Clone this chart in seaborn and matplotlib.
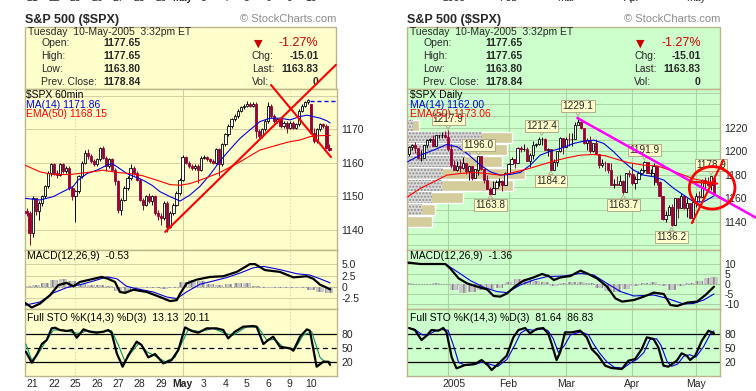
import numpy as np
import matplotlib
matplotlib.use("Agg")
import matplotlib.pyplot as plt
import matplotlib.transforms as mtransforms
from matplotlib.patches import Rectangle, Ellipse
import seaborn as sns

sns.set_style("white")
plt.rcParams['font.family'] = ['Liberation Sans', 'DejaVu Sans']

# -------------------------------
# Header values (same for both charts)
# -------------------------------
title = "S&P 500 ($SPX)"
stamp = "Tuesday  10-May-2005  3:32pm ET"
quote_labels = ["Open:", "High:", "Low:", "Prev. Close:"]
quote_values = ["1177.65", "1177.65", "1163.80", "1178.84"]
chg_labels = ["Chg:", "Last:", "Vol:"]
chg_values = ["-15.01", "1163.83", "0"]
pct_change = "-1.27%"

# -------------------------------
# 60 minute chart (bar index 0..99, 7 bars per day)
# -------------------------------
day_labels = ["21", "22", "25", "26", "27", "28", "29", "May", "3", "4", "5", "6", "9", "10"]
first_day_bar = 2
bars_per_day = 7

h_close = [
    1145.0, 1139.0, 1149.4, 1145.5, 1148.0, 1150.0, 1153.0, 1157.0, 1159.5, 1157.0,
    1156.5, 1159.5, 1157.5, 1158.5, 1152.5, 1150.0, 1151.5, 1156.0, 1160.0, 1163.0,
    1162.0, 1160.5, 1159.5, 1161.0, 1164.5, 1161.5, 1159.0, 1161.0, 1158.0, 1154.5,
    1146.0, 1149.0, 1152.5, 1155.5, 1158.5, 1157.0, 1155.0, 1149.0, 1147.5, 1150.0,
    1148.5, 1150.0, 1145.0, 1144.0, 1143.5, 1148.0, 1141.0, 1145.0, 1147.5, 1151.0,
    1155.0, 1161.8, 1160.0, 1159.0, 1158.5, 1159.0, 1158.0, 1161.5, 1161.8, 1161.0,
    1160.5, 1160.0, 1164.0, 1159.5, 1165.5, 1168.5, 1171.0, 1173.0, 1174.0, 1175.5,
    1176.5, 1177.0, 1177.5, 1177.0, 1177.5, 1169.5, 1168.0, 1170.0, 1172.5, 1177.0,
    1174.0, 1172.5, 1173.0, 1171.0, 1172.0, 1170.5, 1172.0, 1170.5, 1171.5, 1175.5,
    1177.0, 1178.0, 1178.84, 1169.0, 1166.5, 1170.0, 1171.5, 1171.0, 1164.5, 1163.83,
]
h_high = [
    1146.5, 1145.5, 1150.0, 1149.5, 1148.5, 1150.5, 1153.5, 1157.5, 1160.0, 1160.0,
    1158.0, 1160.0, 1160.0, 1159.0, 1159.0, 1153.0, 1152.0, 1156.5, 1160.5, 1163.8,
    1164.0, 1162.5, 1161.0, 1161.5, 1164.8, 1165.0, 1162.0, 1161.5, 1161.5, 1158.5,
    1155.0, 1149.5, 1153.0, 1156.0, 1159.5, 1159.0, 1157.5, 1155.5, 1149.5, 1150.5,
    1151.0, 1150.5, 1150.5, 1146.0, 1145.0, 1148.5, 1148.5, 1145.5, 1148.0, 1151.5,
    1155.5, 1162.3, 1162.0, 1160.5, 1159.5, 1159.5, 1159.5, 1162.0, 1162.3, 1162.0,
    1161.5, 1161.0, 1164.5, 1164.5, 1166.0, 1169.0, 1171.5, 1173.5, 1174.5, 1176.0,
    1177.0, 1177.5, 1178.5, 1178.0, 1178.0, 1178.0, 1170.0, 1170.5, 1173.0, 1178.0,
    1177.5, 1174.5, 1173.5, 1173.5, 1172.5, 1172.5, 1172.5, 1172.5, 1172.0, 1176.0,
    1177.5, 1178.5, 1178.9, 1177.65, 1170.5, 1170.5, 1172.0, 1172.0, 1171.5, 1165.5,
]
h_low = [
    1144.0, 1135.5, 1138.0, 1144.5, 1143.0, 1147.0, 1149.5, 1152.5, 1156.0, 1156.5,
    1155.5, 1156.0, 1157.0, 1157.0, 1152.0, 1149.0, 1142.3, 1151.0, 1155.5, 1159.5,
    1161.0, 1160.0, 1159.0, 1159.0, 1160.5, 1161.0, 1157.5, 1158.5, 1157.5, 1153.5,
    1145.0, 1144.5, 1148.5, 1152.0, 1155.0, 1156.5, 1154.5, 1148.5, 1146.0, 1147.0,
    1148.0, 1147.5, 1144.5, 1143.0, 1141.5, 1143.0, 1139.4, 1140.5, 1144.5, 1147.0,
    1150.5, 1154.5, 1159.5, 1158.5, 1158.0, 1158.0, 1154.0, 1157.5, 1161.0, 1160.5,
    1160.0, 1159.5, 1159.5, 1156.0, 1159.0, 1165.0, 1168.0, 1170.5, 1172.5, 1173.5,
    1175.0, 1176.0, 1176.5, 1176.5, 1176.5, 1167.5, 1167.5, 1167.5, 1169.5, 1172.0,
    1173.5, 1172.0, 1172.0, 1170.5, 1170.5, 1169.0, 1170.0, 1170.0, 1170.0, 1171.0,
    1175.0, 1176.5, 1177.5, 1168.5, 1166.0, 1166.0, 1169.5, 1170.5, 1164.0, 1163.5,
]
h_first_open = 1145.5
h_session_open = {93: 1177.65}   # 10-May opening print

# moving averages (bar index, value)
h_ma_idx = [-0.5, 4.4, 8.7, 11.9, 15.2, 16.8, 19.8, 23.0, 26.3, 27.9, 29.6, 32.8, 35.4, 38.1,
            41.0, 43.6, 46.9, 50.2, 53.4, 56.7, 60.0, 63.2, 66.5, 69.8, 73.0, 76.3, 79.6,
            82.8, 86.1, 89.4, 91.7, 93.6, 96.0, 98.2, 99.2]
h_ma14 = [1149.4, 1148.9, 1149.9, 1151.4, 1152.9, 1154.8, 1156.8, 1157.8, 1159.3, 1159.8,
          1158.8, 1156.8, 1155.8, 1154.8, 1153.3, 1151.4, 1149.9, 1148.6, 1150.4, 1153.0,
          1156.5, 1160.5, 1164.0, 1167.3, 1169.8, 1172.3, 1173.3, 1173.3, 1172.8, 1173.8,
          1174.2, 1173.8, 1173.3, 1172.5, 1171.86]
h_ema_idx = [-0.5, 4.4, 8.7, 14.2, 19.8, 25.0, 29.6, 33.8, 38.1, 42.6, 46.9, 50.2, 53.4,
             56.7, 63.2, 69.8, 76.3, 82.8, 86.1, 89.4, 92.6, 96.0, 99.2]
h_ema50 = [1159.3, 1157.3, 1156.5, 1156.5, 1157.1, 1157.8, 1157.1, 1156.8, 1156.1, 1154.8,
           1153.5, 1153.3, 1153.8, 1154.8, 1157.1, 1160.3, 1163.8, 1165.5, 1166.3, 1166.8,
           1167.8, 1168.1, 1168.15]

h_macd_idx = [-0.5, 1.7, 4.4, 7.7, 10.4, 13.1, 15.3, 17.5, 20.7, 24.6, 26.6, 28.9, 30.5, 32.2,
              34.9, 39.3, 43.6, 46.9, 49.1, 50.2, 52.3, 55.6, 60.0, 64.3, 68.7, 73.0, 74.7,
              77.9, 82.8, 87.2, 91.6, 93.7, 95.9, 98.1, 99.2]
h_macd = [-3.5, -4.5, -3.65, -1.8, 0.4, 0.9, 0.15, 1.1, 1.6, 2.2, 1.8, 1.1, -1.1, -1.3,
          -0.6, -1.1, -2.2, -3.1, -2.9, -1.45, 0.75, 1.6, 2.2, 2.35, 3.3, 5.0, 5.0,
          3.7, 3.3, 2.1, 2.35, 1.8, 0.5, -0.15, -0.53]
h_sig_idx = [-0.5, 4.4, 8.8, 13.1, 17.5, 21.9, 26.3, 29.5, 32.7, 36.0, 41.4, 45.8, 49.1,
             52.3, 56.7, 61.0, 65.4, 69.8, 74.1, 77.5, 82.8, 88.3, 92.6, 95.9, 99.2]
h_signal = [-4.0, -3.3, -1.3, -0.15, 0.5, 1.3, 2.2, 1.8, 0.15, -0.4, -1.1, -2.2, -2.55,
            -1.1, 0.6, 1.3, 2.05, 3.05, 4.2, 4.5, 3.8, 2.9, 2.6, 1.8, 0.9]
h_hist_idx = list(range(0, 100, 3))
h_hist = [0.2, 0.4, 0.9, 1.5, 1.7, 1.2, 0.6, 0.5, 0.4, 0.2, -0.9, -1.2, -0.5, -0.2, -0.3,
          -0.4, -0.2, 1.0, 1.6, 1.2, 0.6, 0.5, 0.7, 0.9, 0.8, 0.3, -0.2, -0.3, -0.3, -0.2,
          -0.3, -0.6, -1.0, -1.3]

h_k_idx = [-0.2, 1.7, 3.3, 5.0, 6.6, 8.2, 9.3, 10.9, 13.1, 14.8, 16.4, 18.6, 20.7, 22.9,
           25.1, 26.7, 27.8, 29.5, 31.4, 33.3, 36.0, 37.6, 39.8, 42.0, 44.7, 47.4, 49.6,
           51.8, 54.0, 56.1, 58.9, 62.1, 64.3, 65.9, 68.1, 70.8, 74.1, 75.2, 77.4, 79.0,
           80.6, 82.8, 86.1, 87.2, 89.4, 91.6, 92.6, 94.8, 97.0, 98.6, 99.2]
h_sto_k = [41.7, 17.8, 34.4, 58.3, 67.0, 92.3, 93.7, 88.7, 86.5, 88.7, 72.0, 90.1, 85.0,
           82.9, 85.0, 88.7, 82.9, 38.0, 9.1, 34.4, 63.4, 56.1, 29.4, 36.6, 16.4, 23.6,
           45.3, 94.4, 86.5, 82.9, 92.3, 92.3, 88.7, 70.6, 85.0, 95.9, 97.3, 95.9, 58.3,
           67.0, 74.2, 52.5, 48.9, 43.8, 74.2, 90.1, 87.2, 9.1, 20.0, 20.0, 13.13]
h_d_idx = [-0.2, 1.7, 3.9, 6.0, 8.8, 12.0, 15.3, 17.5, 19.7, 24.0, 27.8, 30.0, 32.2, 34.4,
           36.9, 39.3, 41.4, 45.3, 48.5, 50.7, 52.9, 56.7, 61.0, 65.4, 67.6, 71.9, 75.7,
           78.5, 81.2, 83.9, 87.7, 90.4, 93.2, 95.9, 97.5, 99.2]
h_sto_d = [58.3, 23.6, 38.0, 61.2, 88.7, 88.7, 82.9, 81.4, 87.2, 84.3, 87.2, 56.1, 20.0,
           41.7, 61.2, 41.7, 34.4, 20.0, 29.4, 59.7, 90.1, 85.0, 92.3, 80.0, 77.8, 95.9,
           94.4, 67.0, 68.4, 51.1, 46.7, 77.8, 85.0, 29.4, 20.0, 20.11]

# hand-drawn trend lines on the 60 min chart
h_trend_up = ([45.3, 101.1], [1139.4, 1189.2])
h_trend_down = ([79.9, 99.5], [1183.2, 1161.7])
h_prior_high = 1178.5
h_prior_high_from = 92.6

# -------------------------------
# Daily chart (14-Dec-2004 .. 10-May-2005)
# -------------------------------
month_labels = ["2005", "Feb", "Mar", "Apr", "May"]
month_start = [13, 33, 52, 74, 95]
month_label_pos = [15, 33, 52, 74, 95]

d_close = [
    1203.4, 1205.7, 1203.2, 1194.2, 1194.7, 1205.5, 1209.6, 1210.1, 1204.9, 1213.5, 1213.5, 1213.6, 1211.9,
    1202.1, 1188.1, 1183.7, 1187.9, 1186.2, 1190.3, 1183.0, 1187.7, 1177.5, 1184.5,
    1196.0, 1184.6, 1175.4, 1167.9, 1163.8, 1168.4, 1174.1, 1174.6, 1171.4, 1181.3,
    1189.4, 1193.2, 1189.9, 1203.0, 1201.7, 1202.3, 1192.0, 1197.0, 1205.3, 1206.1,
    1210.1, 1210.3, 1200.8, 1201.6, 1184.2, 1190.8, 1200.2, 1211.4, 1203.6,
    1210.4, 1210.1, 1210.5, 1222.1, 1225.3, 1219.4, 1207.0, 1209.3, 1200.1, 1206.8, 1197.8,
    1188.1, 1190.2, 1189.7, 1183.8, 1171.7, 1172.5, 1171.4, 1174.3, 1165.4, 1181.4, 1180.6,
    1172.9, 1176.1, 1181.4, 1184.1, 1191.1, 1181.2, 1181.2, 1187.8, 1173.8, 1162.1, 1142.6,
    1146.0, 1152.8, 1137.5, 1160.0, 1152.1, 1162.1, 1151.8, 1156.4, 1143.2, 1156.9,
    1162.2, 1161.2, 1175.7, 1172.6, 1171.4, 1178.84, 1163.83,
]
d_high = [
    1204.9, 1206.6, 1207.9, 1203.2, 1200.7, 1205.5, 1210.2, 1211.6, 1214.1, 1213.6, 1213.9, 1216.5, 1217.3,
    1217.9, 1205.8, 1192.7, 1191.6, 1192.2, 1194.8, 1190.3, 1187.9, 1187.7, 1185.2,
    1196.0, 1196.0, 1184.6, 1179.5, 1169.7, 1174.3, 1175.3, 1177.5, 1175.6, 1182.3,
    1190.4, 1195.2, 1193.2, 1203.5, 1204.5, 1205.9, 1203.8, 1198.8, 1208.4, 1206.9,
    1212.1, 1212.4, 1211.3, 1202.9, 1202.2, 1193.5, 1200.4, 1212.2, 1211.4,
    1212.3, 1215.7, 1215.7, 1224.8, 1229.1, 1225.7, 1219.4, 1211.2, 1213.0, 1206.9, 1210.5,
    1197.8, 1193.3, 1192.0, 1189.8, 1189.7, 1176.6, 1179.3, 1179.4, 1175.8, 1181.4, 1184.0,
    1189.8, 1178.6, 1183.6, 1185.6, 1191.9, 1191.1, 1184.8, 1190.2, 1187.8, 1174.7, 1162.1,
    1148.9, 1154.7, 1155.5, 1160.0, 1160.0, 1164.8, 1162.1, 1159.9, 1156.4, 1156.9,
    1164.3, 1166.0, 1176.0, 1178.3, 1177.8, 1178.9, 1177.7,
]
d_low = [
    1196.2, 1201.5, 1198.4, 1193.4, 1191.7, 1194.1, 1203.2, 1207.7, 1204.9, 1204.9, 1210.9, 1211.4, 1211.7,
    1200.3, 1185.4, 1183.7, 1183.3, 1182.2, 1184.8, 1180.4, 1175.6, 1175.8, 1177.5,
    1180.1, 1184.4, 1173.4, 1167.8, 1163.8, 1163.8, 1168.4, 1170.2, 1166.3, 1171.4,
    1181.3, 1189.4, 1185.6, 1189.7, 1199.7, 1200.2, 1191.5, 1186.9, 1193.3, 1203.6,
    1205.5, 1205.1, 1200.7, 1195.8, 1184.2, 1184.2, 1187.8, 1199.6, 1198.1,
    1203.6, 1204.5, 1204.5, 1210.5, 1222.1, 1218.6, 1206.6, 1201.4, 1198.2, 1199.5, 1197.8,
    1185.6, 1186.3, 1182.8, 1181.9, 1171.6, 1168.7, 1171.3, 1171.4, 1163.7, 1165.4, 1178.3,
    1171.7, 1167.7, 1176.1, 1180.0, 1182.7, 1181.2, 1178.7, 1170.9, 1171.6, 1161.7, 1141.9,
    1139.8, 1146.0, 1136.2, 1137.5, 1142.9, 1152.1, 1151.2, 1144.4, 1143.2, 1139.8,
    1152.7, 1156.7, 1161.2, 1168.0, 1170.1, 1166.8, 1163.8,
]
d_first_open = 1198.0
d_session_open = {101: 1177.65}

peak_idx = [13, 23, 44, 56, 78, 100]
trough_idx = [27, 47, 71, 87]

d_ma_idx = [-0.4, 3.8, 8.2, 12.6, 16.0, 19.3, 23.7, 27.0, 30.3, 33.6, 36.9, 40.2, 43.5, 46.9,
            50.2, 54.6, 57.9, 61.2, 64.5, 67.8, 71.1, 74.4, 77.7, 81.1, 84.4, 87.7, 91.0,
            94.3, 97.6, 101.0]
d_ma14 = [1191.1, 1196.7, 1201.0, 1205.8, 1203.8, 1198.1, 1188.2, 1182.5, 1179.7, 1180.3,
          1182.0, 1188.2, 1196.7, 1200.1, 1202.4, 1206.7, 1208.6, 1209.5, 1206.7, 1199.6,
          1191.1, 1184.0, 1179.7, 1178.3, 1175.5, 1168.4, 1162.7, 1157.0, 1157.0, 1162.00]
d_ema_idx = [-0.4, 3.8, 8.2, 12.6, 17.0, 21.4, 25.8, 30.3, 34.7, 39.1, 43.5, 47.9, 52.4,
             56.8, 61.0, 65.0, 72.3, 77.7, 82.1, 86.5, 91.0, 94.3, 97.6, 101.0]
d_ema50 = [1161.3, 1168.4, 1174.0, 1179.7, 1181.1, 1182.0, 1181.1, 1179.7, 1182.0, 1184.8,
           1188.2, 1191.6, 1194.5, 1196.7, 1197.3, 1196.2, 1190.5, 1188.2, 1187.6, 1184.0,
           1179.7, 1176.5, 1174.8, 1173.06]

d_macd_idx = [-0.1, 3.8, 8.2, 12.1, 13.7, 16.5, 19.3, 22.6, 25.9, 28.1, 30.3, 32.5, 35.3,
              38.0, 41.3, 44.1, 46.3, 48.0, 50.2, 53.5, 56.8, 59.0, 62.3, 65.6, 68.4, 70.6,
              74.5, 77.8, 81.1, 84.4, 86.6, 88.8, 92.1, 95.4, 98.2, 101.0]
d_macd = [10.7, 10.0, 10.0, 10.0, 7.8, 2.8, 0.3, -1.3, -2.7, -6.0, -6.3, -4.7, -1.0, 1.7,
          3.3, 5.0, 4.0, 2.0, 3.3, 4.0, 6.7, 5.3, 2.8, -1.3, -7.2, -8.8, -8.0, -6.3, -4.3,
          -5.0, -10.5, -11.0, -9.3, -8.8, -5.5, -1.36]
d_sig_idx = [-0.1, 12.1, 16.0, 20.4, 24.9, 29.2, 32.5, 36.9, 41.3, 45.7, 51.3, 56.8, 61.2,
             65.6, 70.1, 74.5, 81.1, 85.5, 91.0, 94.3, 97.6, 101.0]
d_signal = [10.3, 10.0, 6.2, 1.7, -1.7, -3.8, -4.3, -0.5, 2.0, 3.7, 4.0, 5.3, 4.5, 0.3,
            -3.8, -6.0, -5.5, -7.2, -10.0, -9.7, -8.0, -5.0]
d_hist_idx = list(range(0, 100, 3)) + [101]
d_hist = [0.3, 0.2, 0.2, 0.3, 0.0, -3.0, -4.3, -4.0, -3.0, -2.5, -1.8, 0.8, 2.3, 2.3, 1.5,
          0.8, -0.8, 0.3, 0.8, 1.2, 0.5, -1.8, -3.5, -3.8, -2.5, -1.0, 0.3, 1.0, -0.8, -3.0,
          -1.0, 0.5, 1.5, 2.8, 3.7]

d_k_idx = [0.1, 2.0, 4.2, 5.9, 7.5, 9.8, 11.4, 12.5, 14.2, 15.8, 18.6, 21.9, 24.1, 26.3,
           27.4, 29.6, 32.4, 34.6, 36.3, 38.5, 40.1, 42.3, 44.5, 46.2, 47.3, 48.9, 50.1,
           51.7, 53.9, 56.7, 58.9, 60.5, 62.7, 65.0, 67.1, 70.5, 72.7, 74.9, 77.1, 78.8,
           81.0, 82.6, 84.3, 85.9, 88.7, 90.3, 92.0, 93.1, 94.8, 97.0, 99.2, 101.0]
d_sto_k = [93.0, 88.7, 67.0, 76.4, 88.7, 87.3, 93.0, 83.6, 29.4, 5.6, 12.8, 15.0, 23.6, 11.4,
           2.0, 15.0, 33.0, 72.8, 88.7, 93.0, 81.5, 90.9, 93.0, 80.0, 58.3, 23.6, 40.3,
           83.6, 83.6, 87.3, 72.8, 47.5, 33.0, 11.4, 6.3, 4.1, 22.2, 25.8, 47.5, 72.8, 69.2,
           51.1, 11.4, 9.2, 22.2, 38.1, 33.0, 23.6, 33.0, 65.6, 87.3, 81.64]
d_d_idx = [0.0, 2.0, 4.5, 6.5, 8.5, 11.0, 13.0, 14.8, 16.5, 19.0, 22.0, 24.5, 27.0, 29.5,
           32.5, 35.0, 37.0, 39.0, 41.5, 44.0, 46.0, 47.8, 49.5, 51.5, 53.5, 57.0, 59.5,
           61.0, 63.0, 65.5, 68.0, 71.0, 73.5, 75.5, 77.8, 79.8, 82.0, 83.5, 85.5, 87.0,
           89.0, 91.0, 93.0, 95.0, 97.5, 99.8, 101.0]
d_sto_d = [93.0, 90.0, 78.0, 78.0, 86.0, 90.0, 88.0, 55.0, 18.0, 12.0, 14.0, 20.0, 14.0,
           10.0, 25.0, 55.0, 82.0, 90.0, 88.0, 91.0, 88.0, 70.0, 40.0, 55.0, 78.0, 85.0,
           78.0, 60.0, 40.0, 20.0, 8.0, 6.0, 18.0, 25.0, 40.0, 68.0, 70.0, 55.0, 20.0, 10.0,
           15.0, 32.0, 35.0, 30.0, 52.0, 80.0, 86.83]

# volume by price (zone centre, total and down volume, relative units)
vbp_center = [1140.2, 1150.4, 1160.6, 1170.8, 1181.0, 1191.2, 1201.4, 1211.6, 1221.8]
vbp_total = [2.5, 2.8, 5.6, 10.6, 11.8, 9.5, 10.0, 10.5, 1.2]
vbp_down = [0.0, 1.5, 2.5, 3.5, 3.6, 5.8, 6.5, 7.5, 0.6]

# hand-drawn marks on the daily chart
d_trend = ([55.8, 115.1], [1228.3, 1143.2])
d_red_up = ([93.7, 104.1], [1138.9, 1192.5])
d_red_flat = ([93.2, 102.1], [1174.2, 1172.5])
d_circle = (100.4, 1168.9, 15.1, 36.1)

# -------------------------------
# Layout (pixels)
# -------------------------------
W, H = 756, 391
YELLOW = '#FFFFCC'
GREEN = '#CCFFCC'
BORDER = '#BDB58A'
MAROON = '#990033'
RED = '#FF0000'
BLUE = '#0000DD'
TAN = '#D5CC9C'

fig = plt.figure(figsize=(W / 100, H / 100), dpi=100)
fig.patch.set_facecolor('white')


def px_axes(x0, y0, x1, y1, z=1):
    ax = fig.add_axes([x0 / W, 1 - y1 / H, (x1 - x0) / W, (y1 - y0) / H])
    ax.set_zorder(z)
    return ax


ov = px_axes(0, 0, W, H, z=0)
ov.set_xlim(0, W)
ov.set_ylim(H, 0)
ov.axis('off')


def header(x0, x1, bg):
    ov.add_patch(Rectangle((x0, 27), x1 - x0, 62, fc=bg, ec=BORDER, lw=1))
    ov.text(x0, 19.5, title, fontsize=9, fontweight='bold', va='center')
    ov.text(x1, 19.5, "\u00a9 StockCharts.com", fontsize=8, color='#8C8C8C', ha='right', va='center')
    ov.text(x0 + 2.5, 31.7, stamp, fontsize=7.5, va='center')
    ys = [43.3, 56.0, 69.3, 81.7]
    for lab, val, y in zip(quote_labels, quote_values, ys):
        ov.text(x0 + 16, y, lab, fontsize=7.5, va='center')
        ov.text(x0 + 78, y, val, fontsize=7.5, fontweight='bold', va='center')
    ov.text(x0 + 233, ys[0], "\u25bc", fontsize=8, color='#CC0000', ha='center', va='center',
            family='DejaVu Sans')
    ov.text(x0 + 293.5, ys[0], pct_change, fontsize=9, color='#CC0000', ha='right', va='center')
    for lab, val, y in zip(chg_labels, chg_values, ys[1:]):
        ov.text(x0 + 227, y, lab, fontsize=7.5, va='center')
        ov.text(x0 + 293.5, y, val, fontsize=7.5, fontweight='bold', ha='right', va='center')


def candles(ax, o, h, l, c, width):
    o, h, l, c = map(np.asarray, (o, h, l, c))
    x = np.arange(len(c))
    up = c >= o
    ax.vlines(x[up], l[up], h[up], color='black', lw=0.7, zorder=3)
    ax.vlines(x[~up], l[~up], h[~up], color=MAROON, lw=0.7, zorder=3)
    ax.bar(x[up], (c - o)[up], bottom=o[up], width=width, color='white',
           edgecolor='black', lw=0.6, zorder=4)
    ax.bar(x[~up], (o - c)[~up], bottom=c[~up], width=width, color=MAROON,
           edgecolor=MAROON, lw=0.6, zorder=4)


def line(ax, x, y, color, lw, z=5):
    sns.lineplot(x=x, y=y, ax=ax, color=color, linewidth=lw, sort=False,
                 estimator=None, legend=False, zorder=z)


def tag(ax, text, dy, color='black', dx=2):
    ax.annotate(text, xy=(0, 1), xycoords='axes fraction', xytext=(dx, -dy),
                textcoords='offset pixels', fontsize=7.5, color=color, va='center',
                ha='left', zorder=9)


def finish(ax, bg, xlim, ylim, ticks, labels, hgrid, gcol, vgrid):
    ax.set_facecolor(bg)
    for s in ax.spines.values():
        s.set_color(BORDER)
        s.set_linewidth(1.0)
    for y in hgrid:
        ax.axhline(y, color=gcol, lw=0.7, zorder=0.6)
    for xv, ls in vgrid:
        ax.axvline(xv, color=gcol, lw=0.8, ls=ls, zorder=0.6)
    ax.set_xlim(*xlim)
    ax.set_ylim(*ylim)
    ax.yaxis.tick_right()
    ax.set_yticks(ticks)
    ax.set_yticklabels(labels)
    ax.set_xticks([])
    ax.set_xlabel('')
    ax.set_ylabel('')
    ax.tick_params(axis='both', length=0, labelsize=7.5, pad=3)


def sto_refs(ax):
    ax.axhline(80, color='black', lw=0.9, zorder=2)
    ax.axhline(20, color='black', lw=0.9, zorder=2)
    ax.axhline(50, color='black', lw=0.9, ls=(0, (4, 3)), zorder=2)


# ================= LEFT: 60 minute chart =================
LX0, LX1 = 25, 337
RX0, RX1 = 407.3, 720
YT, YM, YS, YB = 89, 250, 309.3, 376

header(LX0, 336, YELLOW)
header(RX0, RX1, GREEN)

lp = px_axes(LX0, YT, LX1, YM)
lm = px_axes(LX0, YM, LX1, YS)
ls_ = px_axes(LX0, YS, LX1, YB)

h_open = [h_first_open] + h_close[:-1]
for k, v in h_session_open.items():
    h_open[k] = v
n_h = len(h_close)
lp.bar(n_h - 1, h_high[-1] - h_low[-1], bottom=h_low[-1], width=1.3, color='#FFFF00', zorder=2.5)
candles(lp, h_open, h_high, h_low, h_close, 0.72)
line(lp, h_ma_idx, h_ma14, BLUE, 0.8)
line(lp, h_ema_idx, h_ema50, RED, 0.8)
lp.hlines(h_prior_high, h_prior_high_from, 102, colors='#0000FF', lw=1.0,
          linestyles=(0, (3, 2)), zorder=5)
lp.plot(*h_trend_up, color=RED, lw=1.5, clip_on=False, zorder=8)
lp.plot(*h_trend_down, color=RED, lw=1.5, clip_on=False, zorder=8)
tag(lp, "$SPX 60min", 6, dx=1.5)
tag(lp, f"MA(14) {h_ma14[-1]:.2f}", 15.7, BLUE, dx=1.5)
tag(lp, f"EMA(50) {h_ema50[-1]:.2f}", 25.3, RED, dx=1.5)

lm.bar(h_hist_idx, h_hist, width=2.6, color='#C8C8C8', hatch='|||', edgecolor='#808080',
       lw=0, zorder=1.5)
lm.axhline(0, color='#999999', lw=0.8, ls=(0, (1, 1.5)), zorder=1.4)
line(lm, h_sig_idx, h_signal, BLUE, 0.8)
line(lm, h_macd_idx, h_macd, 'black', 1.6, z=6)
tag(lm, f"MACD(12,26,9)  {h_macd[-1]:.2f}", 6)

sto_refs(ls_)
line(ls_, h_d_idx, h_sto_d, '#009966', 0.8)
line(ls_, h_k_idx, h_sto_k, 'black', 1.6, z=6)
tag(ls_, f"Full STO %K(14,3) %D(3)  {h_sto_k[-1]:.2f}  {h_sto_d[-1]:.2f}", 9)

day_pos = [first_day_bar + bars_per_day * i for i in range(len(day_labels))]
h_vgrid = [(day_pos[2], (0, (1, 2))), (day_pos[7], '-'), (day_pos[12], (0, (1, 2)))]
h_xlim = (-0.5, 101.46)
finish(lp, YELLOW, h_xlim, (1134, 1182), [1140, 1150, 1160, 1170], ['1140', '1150', '1160', '1170'],
       [1140, 1150, 1160, 1170, 1180], '#D6CFA2', h_vgrid)
finish(lm, YELLOW, h_xlim, (-4.9, 8.1), [-2.5, 0, 2.5, 5.0], ['-2.5', '0', '2.5', '5.0'],
       [-2.5, 0, 2.5, 5.0], '#D6CFA2', h_vgrid)
finish(ls_, YELLOW, h_xlim, (-11, 133.6), [20, 50, 80], ['20', '50', '80'],
       [], '#D6CFA2', h_vgrid)
ls_.set_xticks(day_pos)
ls_.set_xticklabels(day_labels)
ls_.tick_params(axis='x', length=0, pad=2, labelsize=7.5)
ls_.get_xticklabels()[7].set_fontweight('bold')

# bottom edge of the x labels of the chart above, cut off at the top of the image
trans = mtransforms.blended_transform_factory(lp.transData, fig.transFigure)
for p, lab in zip(day_pos, day_labels):
    lp.text(p, 1 - 0.8 / H, lab, transform=trans, ha='center', va='baseline', fontsize=7.5,
            fontweight='bold' if lab == 'May' else 'normal', clip_on=False)

# ================= RIGHT: daily chart =================
rp = px_axes(RX0, YT, RX1, YM)
rm = px_axes(RX0, YM, RX1, YS)
rs = px_axes(RX0, YS, RX1, YB)

idx_px = 3.02
vbp_len = np.asarray(vbp_total) * 10 / idx_px
vbp_dn = np.asarray(vbp_down) * 10 / idx_px
rp.barh(vbp_center, vbp_len, height=9.2, left=-0.5, color=TAN, zorder=1.2)
rp.barh(vbp_center, vbp_dn, height=9.2, left=-0.5, color='#DADADA', hatch='.....',
        edgecolor='#8C8C8C', lw=0, zorder=1.3)

d_open = [d_first_open] + d_close[:-1]
for k, v in d_session_open.items():
    d_open[k] = v
n_d = len(d_close)
rp.bar(n_d - 1, d_high[-1] - d_low[-1], bottom=d_low[-1], width=1.4, color='#FFFF00', zorder=2.5)
candles(rp, d_open, d_high, d_low, d_close, 0.75)
line(rp, d_ma_idx, d_ma14, BLUE, 0.8)
line(rp, d_ema_idx, d_ema50, RED, 0.8)

box = dict(boxstyle='square,pad=0.12', fc=YELLOW, ec='#A8A080', lw=0.6)
arrow = dict(arrowstyle='wedge,tail_width=0.45', fc=YELLOW, ec='#A8A080', lw=0.6,
             shrinkA=0, shrinkB=1)
for i in peak_idx:
    rp.annotate(f"{d_high[i]:.1f}", xy=(i, d_high[i]), xytext=(0, 11), textcoords='offset pixels',
                ha='center', va='center', fontsize=7.2, bbox=box, arrowprops=arrow, zorder=6,
                annotation_clip=False)
for i in trough_idx:
    rp.annotate(f"{d_low[i]:.1f}", xy=(i, d_low[i]), xytext=(0, -11), textcoords='offset pixels',
                ha='center', va='center', fontsize=7.2, bbox=box, arrowprops=arrow, zorder=6,
                annotation_clip=False)

rp.plot(*d_trend, color='#FF00FF', lw=1.8, clip_on=False, zorder=8)
rp.plot(*d_red_up, color=RED, lw=1.5, clip_on=False, zorder=8)
rp.plot(*d_red_flat, color=RED, lw=1.5, clip_on=False, zorder=8)
cx, cy, cw, ch = d_circle
rp.add_patch(Ellipse((cx, cy), cw, ch, fill=False, ec=RED, lw=2.0, clip_on=False, zorder=8))
tag(rp, "$SPX Daily", 6, dx=2.4)
tag(rp, f"MA(14) {d_ma14[-1]:.2f}", 15.7, BLUE, dx=2.4)
tag(rp, f"EMA(50) {d_ema50[-1]:.2f}", 25.3, RED, dx=2.4)

rm.bar(d_hist_idx, d_hist, width=2.6, color='#C8C8C8', hatch='|||', edgecolor='#808080',
       lw=0, zorder=1.5)
rm.axhline(0, color='#999999', lw=0.8, ls=(0, (1, 1.5)), zorder=1.4)
line(rm, d_sig_idx, d_signal, BLUE, 0.8)
line(rm, d_macd_idx, d_macd, 'black', 1.6, z=6)
tag(rm, f"MACD(12,26,9)  {d_macd[-1]:.2f}", 6, dx=2.4)

sto_refs(rs)
line(rs, d_d_idx, d_sto_d, BLUE, 0.8)
line(rs, d_k_idx, d_sto_k, 'black', 1.6, z=6)
tag(rs, f"Full STO %K(14,3) %D(3)  {d_sto_k[-1]:.2f}  {d_sto_d[-1]:.2f}", 9, dx=2.4)

d_vgrid = [(m, '-') for m in month_start]
d_xlim = (-0.5, 103.0)
gg = '#A9D3A0'
finish(rp, GREEN, d_xlim, (1116, 1253), [1140, 1160, 1180, 1200, 1220],
       ['1140', '1160', '1180', '1200', '1220'], list(range(1120, 1251, 10)), gg, d_vgrid)
finish(rm, GREEN, d_xlim, (-12.65, 17), [-10, -5, 0, 5, 10], ['-10', '-5', '0', '5', '10'],
       [-10, -5, 0, 5, 10], gg, d_vgrid)
finish(rs, GREEN, d_xlim, (-11, 133.6), [20, 50, 80], ['20', '50', '80'], [], gg, d_vgrid)
rs.set_xticks(month_label_pos)
rs.set_xticklabels(month_labels)
rs.tick_params(axis='x', length=0, pad=2, labelsize=7.5)

trans_r = mtransforms.blended_transform_factory(rp.transData, fig.transFigure)
for p, lab in zip(month_label_pos, month_labels):
    rp.text(p, 1 - 0.8 / H, lab, transform=trans_r, ha='center', va='baseline', fontsize=7.5,
            clip_on=False)

fig.savefig("out.png", dpi=100)
